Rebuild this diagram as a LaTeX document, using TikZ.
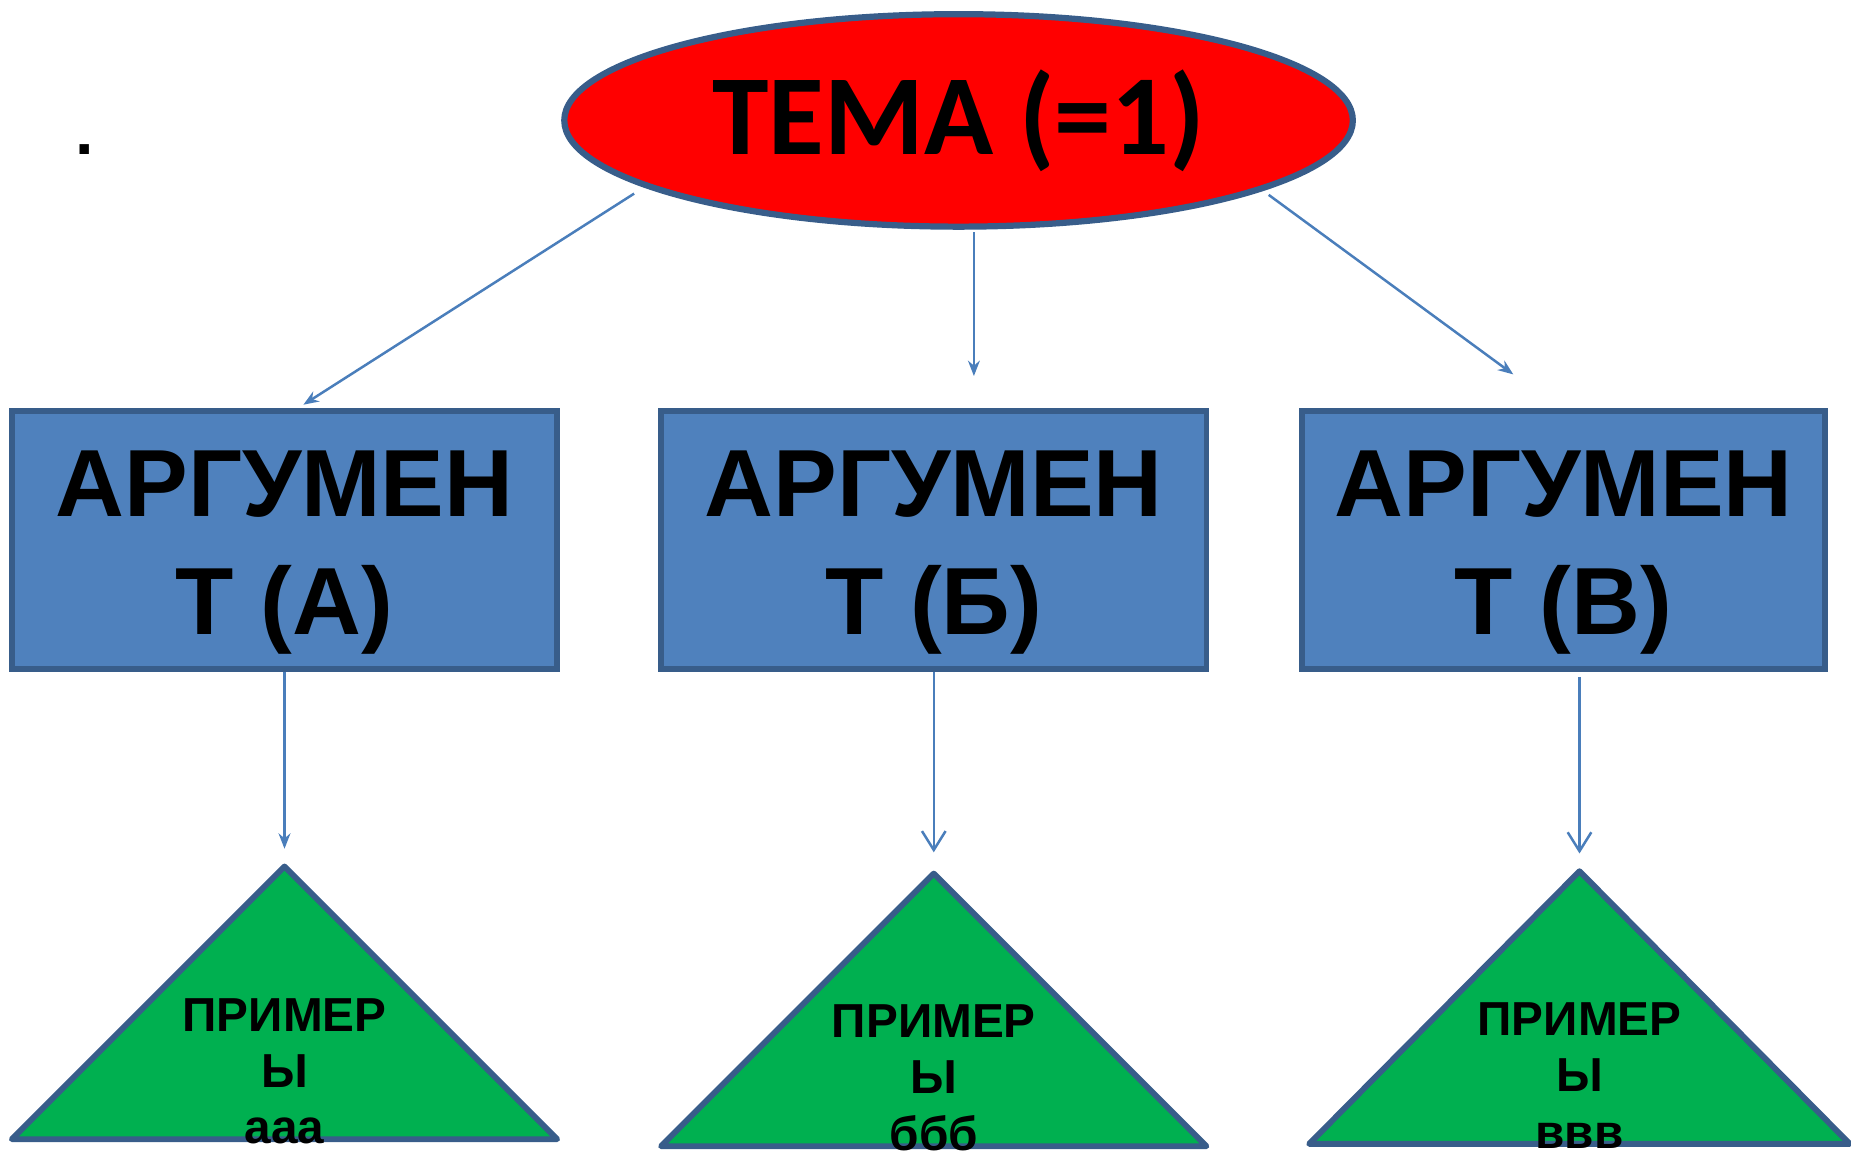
\documentclass[tikz,border=0pt]{standalone}
\usepackage{fontspec}
\setmainfont{Liberation Sans}
\newfontfamily\calib{Carlito}
\usetikzlibrary{shapes.geometric,arrows.meta}
\definecolor{frame}{HTML}{385D8A}
\definecolor{boxblue}{HTML}{4F81BD}
\definecolor{trigreen}{HTML}{00B050}
\definecolor{linkblue}{HTML}{4A7EBB}
\newcommand\tallrow{\rule{0pt}{22pt}}
\tikzset{
	theme/.style={ellipse, draw=frame, line width=1.5pt, fill=red, minimum width=6.68cm, minimum height=1.8cm, inner sep=0pt, font=\calib\bfseries\fontsize{27.5}{30}\selectfont},
	argbox/.style={rectangle, draw=frame, line width=1.4pt, fill=boxblue, minimum height=2.19cm, align=center, inner sep=0pt, font=\bfseries\fontsize{23}{28.45}\selectfont},
	examp/.style={draw=frame, line width=1.4pt, fill=trigreen, line join=round},
	extext/.style={align=center, inner sep=0pt, font=\bfseries\fontsize{11.5}{13.6}\selectfont},
	link/.style={draw=linkblue, line width=0.6pt, -{Stealth[length=1.3mm,width=1mm]}},
	openlink/.style={draw=linkblue, line width=0.6pt, -{Straight Barb[length=1.6mm,width=2mm]}}
}
\begin{document}
\begin{tikzpicture}
				\useasboundingbox (0,0) rectangle (15.68,9.78);
				
				\node[inner sep=0pt, font=\bfseries\fontsize{16}{16}\selectfont] (dot) at (0.72,8.51) {.};
				\node[theme] (theme) at (8.12,8.76) {ТЕМА (=1)};
				
				\node[argbox, minimum width=4.62cm] (argA) at (2.41,5.205) {\tallrow АРГУМЕН\\Т (А)};
				\node[argbox, minimum width=4.62cm] (argB) at (7.91,5.205) {\tallrow АРГУМЕН\\Т (Б)};
				\node[argbox, minimum width=4.43cm] (argC) at (13.245,5.205) {\tallrow АРГУМЕН\\Т (В)};
				
				\draw[link, shorten <=1mm, shorten >=0.5mm] (theme.192.75) -- (argA.84);
				\draw[link, shorten <=0.2mm, shorten >=2.7mm] (theme.278) -- (theme.278 |- argB.north);
				\draw[link, shorten <=0.6mm, shorten >=4.8mm] (theme.347) -- (argC.92);
				
				\coordinate (topA) at (2.41,2.44);
				\coordinate (topB) at (7.91,2.38);
				\coordinate (topC) at (13.38,2.40);
				\draw[examp] (topA) -- ++(2.31,-2.31) -- ++(-4.62,0) -- cycle;
				\draw[examp] (topB) -- ++(2.31,-2.31) -- ++(-4.62,0) -- cycle;
				\draw[examp] (topC) -- ++(2.29,-2.31) -- ++(-4.58,0) -- cycle;
				
				\draw[link, shorten >=1.5mm] (argA.south) -- (topA);
				\draw[openlink, shorten >=1.8mm] (argB.south) -- (topB);
				\draw[openlink, shorten <=0.4mm, shorten >=1.5mm] (topC |- argC.south) -- (topC);
				
				\node[extext] (exA) at (2.41,0.705) {ПРИМЕР\\Ы\\ааа};
				\node[extext] (exB) at (7.91,0.65) {ПРИМЕР\\Ы\\ббб};
				\node[extext] (exC) at (13.38,0.67) {ПРИМЕР\\Ы\\ввв};
\end{tikzpicture}
\end{document}
